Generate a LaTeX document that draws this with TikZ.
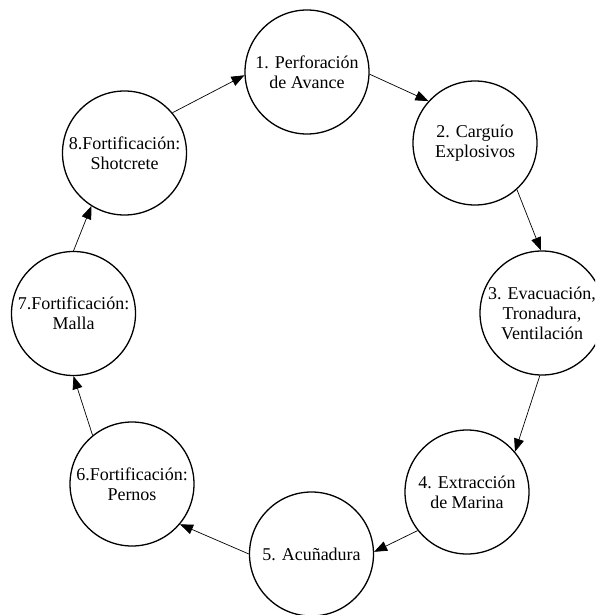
\documentclass[tikz,border=0pt]{standalone}
\usepackage{fontspec}
\setmainfont{Liberation Serif}
\usetikzlibrary{arrows.meta}
\begin{document}
\begin{tikzpicture}[x=1pt,y=-1pt,
  stage/.style={circle, draw, line width=1.3pt, minimum size=124pt, inner sep=0pt,
    align=center, font=\fontsize{18}{20}\selectfont},
  flow/.style={line width=0.7pt, -{Triangle[length=13pt,width=10pt]}}]
\clip (0,0) rectangle (595,615);
\fill[white] (0,0) rectangle (595,615);
% stages of the excavation cycle
\node[stage] (s1) at (307,72)    {1. Perforación\\de Avance};
\node[stage] (s2) at (475,143)   {2. Carguío\\Explosivos};
\node[stage] (s3) at (542,313)   {3. Evacuación,\\Tronadura,\\Ventilación};
\node[stage] (s4) at (467,492)   {4. Extracción\\de Marina};
\node[stage] (s5) at (311.5,554) {5. Acuñadura};
\node[stage] (s6) at (132,484)   {6.Fortificación:\\Pernos};
\node[stage] (s7) at (73.5,313.5){7.Fortificación:\\Malla};
\node[stage] (s8) at (124.5,153) {8.Fortificación:\\Shotcrete};
% cycle connectors
\draw[flow] (s1.-2)   -- (s2.138);
\draw[flow] (s2.-48)  -- (s3.91);
\draw[flow] (s3.-92)  -- (s4.40);
\draw[flow] (s4.218)  -- (s5.2);
\draw[flow] (s5.180)  -- (s6.-40);
\draw[flow] (s6.129)  -- (s7.-90);
\draw[flow] (s7.90)   -- (s8.238);
\draw[flow] (s8.40)   -- (s1.183);
\end{tikzpicture}
\end{document}
